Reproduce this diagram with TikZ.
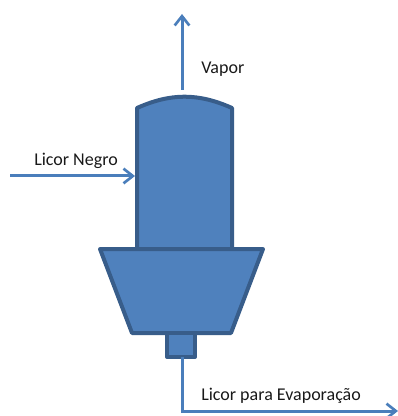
\documentclass[tikz,border=0pt]{standalone}
\usepackage{fontspec}
\setmainfont{Carlito}
\usepackage{xcolor}
\usetikzlibrary{arrows.meta}
\definecolor{vessel}{HTML}{4F81BD}
\definecolor{vesselline}{HTML}{385D8A}
\definecolor{flow}{HTML}{4A7EBB}

\begin{document}
\begin{tikzpicture}[
  x=0.75pt,y=-0.75pt,
  dep/.style ={
    -{Straight Barb[length=7pt,width=11pt,line width=2pt]},draw=flow,line width=2.25pt
  },
  part/.style={
    draw=vesselline,
    fill=vessel,
    line width=3pt,
    line join=round,
    inner sep=0pt,
    outer sep=0pt},
  lbl/.style={
    inner sep=0pt,
    font=\fontsize{13.5pt}{16pt}\selectfont,
    text=black!90},
]

  \useasboundingbox (0,0) rectangle (398,416);

  \def\midx{182}%

    % Column with dome
    \node[fill=vessel,inner sep=0pt,outer sep=0pt,minimum width=71.25pt,minimum height=105pt] (body) at (184.5,178) {};
    \draw[part] (body.south west) -- (body.north west)
        to[bend left=24] (body.north east) -- (body.south east);

    % Cone and outlet
    \draw[part] (100,249) -- (263,249) -- (231,333) -- (132,333) -- cycle;
    \node[part,minimum width=21pt,minimum height=18pt] (outlet) at (181,345) {};

    % Streams
    \coordinate (vaporin) at (\midx,90);
    \coordinate (vaporout) at (\midx,14);
    \coordinate (feedin) at (10,176);
    \coordinate (feedout) at (135,176);
    \coordinate (bend) at (\midx,411);
    \coordinate (prodout) at (398,411);

    \draw[dep] (vaporin) -- (vaporout);
    \draw[dep] (feedin) -- (feedout);
    \draw[dep] (outlet.south -| bend) -- (bend) -- (prodout);

    \node[lbl,anchor=base west] (vapor) at (201,74) {Vapor};
    \node[lbl,anchor=base west] (feed) at (34,166) {Licor Negro};
    \node[lbl,anchor=base west] (prod) at (201,400.5) {Licor para Evaporação};

\end{tikzpicture}
\end{document}
